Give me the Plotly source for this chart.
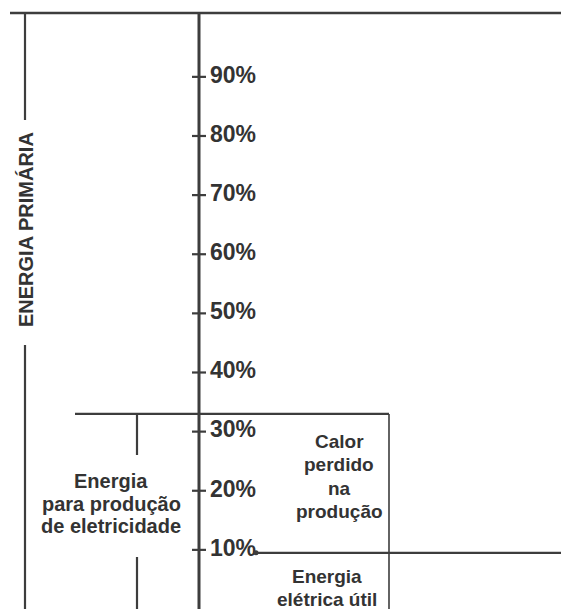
import plotly.graph_objects as go

# ---- data (percent of primary energy) ----
tick_values = [10, 20, 30, 40, 50, 60, 70, 80, 90]
tick_labels = ["10%", "20%", "30%", "40%", "50%", "60%", "70%", "80%", "90%"]
primary_level = 100.8        # energia primária (top line)
electricity_input = 33.0     # energia para produção de eletricidade
useful_output = 9.5          # energia elétrica útil

primary_label = "ENERGIA PRIMÁRIA"
input_label = ["Energia", "para produção", "de eletricidade"]
loss_label = ["Calor", "perdido", "na", "produção"]
useful_label = ["Energia", "elétrica útil"]

# ---- layout constants ----
W, H = 561, 609
Y_MAX = 103.0
LINE = "#3d3d3d"
TXT = "#333333"
FONT = "Liberation Sans, Arial, sans-serif"

def pct(px):
    # convert a vertical pixel position (from top) to percent units on the axis
    return Y_MAX * (1 - px / H)

AX_X = 199
fig = go.Figure()

shapes = []
def seg(x0, y0, x1, y1, w=2.2):
    shapes.append(dict(type="line", xref="x", yref="y", x0=x0, y0=y0, x1=x1, y1=y1,
                       line=dict(color=LINE, width=w)))

# top line (primary energy)
seg(10, primary_level, W, primary_level, 2.6)
# main axis
seg(AX_X, primary_level, AX_X, 0, 3)
# left bracket for primary energy
seg(25, primary_level, 25, pct(120), 2.2)
seg(25, pct(345), 25, 0, 2.2)
# electricity input line
seg(75, electricity_input, 389, electricity_input, 2.2)
seg(389, electricity_input, 389, 0, 1.6)
# inner bracket
seg(137, electricity_input, 137, pct(455), 2.2)
seg(137, pct(557), 137, 0, 2.2)
# useful output line
seg(255, useful_output, W, useful_output, 2.2)

# tick marks
fig.add_trace(go.Scatter(
    x=[AX_X] * len(tick_values), y=tick_values, mode="markers",
    marker=dict(symbol="line-ew", size=10, line=dict(color=LINE, width=2.2)),
    hoverinfo="skip", showlegend=False))
# tick labels
fig.add_trace(go.Scatter(
    x=[AX_X + 11] * len(tick_values), y=tick_values, mode="text",
    text=tick_labels, textposition="middle right",
    textfont=dict(family=FONT, size=23, color=TXT, weight="bold"),
    hoverinfo="skip", showlegend=False))
# dot at start of useful line
fig.add_trace(go.Scatter(
    x=[256], y=[useful_output], mode="markers",
    marker=dict(size=5, color=LINE), hoverinfo="skip", showlegend=False))

ann = []
ann.append(dict(x=26, y=pct(230), text="<b>%s</b>" % primary_label, textangle=-90,
                showarrow=False, xref="x", yref="y", bgcolor="white",
                font=dict(family=FONT, size=20, color=TXT)))

def lines(xc, texts, pys, size=20):
    for t, p in zip(texts, pys):
        ann.append(dict(x=xc, y=pct(p), text="<b>%s</b>" % t, showarrow=False,
                        xref="x", yref="y",
                        font=dict(family=FONT, size=size, color=TXT)))

lines(111, input_label, [481, 504, 526])
lines(339, loss_label, [441, 464, 488, 511], size=19)
lines(327, useful_label, [576, 599], size=19)

fig.update_layout(
    width=W, height=H, margin=dict(l=0, r=0, t=0, b=0),
    paper_bgcolor="white", plot_bgcolor="white",
    xaxis=dict(range=[0, W], visible=False, fixedrange=True),
    yaxis=dict(range=[0, Y_MAX], visible=False, fixedrange=True),
    shapes=shapes, annotations=ann, showlegend=False,
)
fig.write_html("out.html", config={"displayModeBar": False},
               post_script="document.body.style.margin='0';document.body.style.overflow='hidden';")
